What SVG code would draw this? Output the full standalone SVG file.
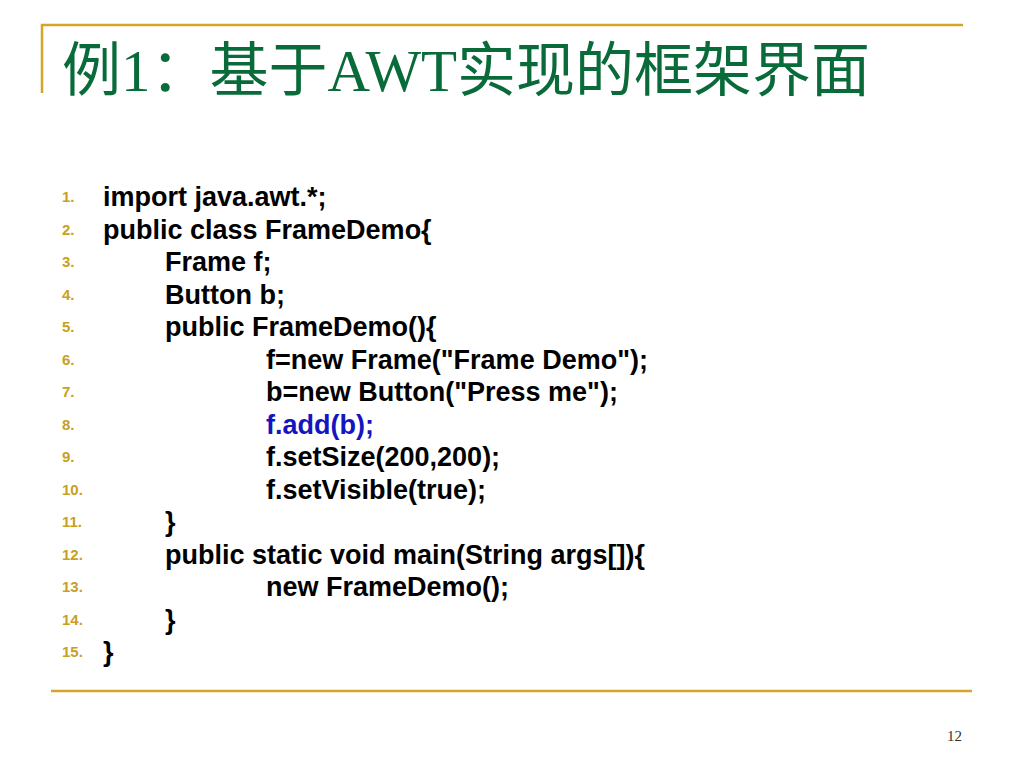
<svg xmlns="http://www.w3.org/2000/svg" width="1024" height="768" viewBox="0 0 1024 768">
<style>
.rule{stroke:#D4A52A;stroke-width:2.5;fill:none}
.title{font-family:"Liberation Serif","Noto Sans CJK SC",serif;font-size:59px;fill:#0A6B3A}
.num{font-family:"Liberation Sans",Arial,sans-serif;font-size:15px;font-weight:bold;fill:#C9A021}
.code{font-family:"Liberation Sans",Arial,sans-serif;font-size:27px;font-weight:bold;fill:#000}
.blue{fill:#1414C0}
.page{font-family:"Liberation Serif",serif;font-size:15px;fill:#333}
</style>
<rect width="1024" height="768" fill="#fff"/>
<g id="frame">
<path class="rule" d="M42 93 V25 H963"/>
<line class="rule" x1="51" y1="691" x2="972" y2="691"/>
</g>
<g id="title">
<text class="title" x="62" y="91">例1：基于AWT实现的框架界面</text>
</g>
<g id="line-numbers">
<text class="num" x="62" y="202">1.</text>
<text class="num" x="62" y="234.5">2.</text>
<text class="num" x="62" y="267">3.</text>
<text class="num" x="62" y="299.5">4.</text>
<text class="num" x="62" y="332">5.</text>
<text class="num" x="62" y="364.5">6.</text>
<text class="num" x="62" y="397">7.</text>
<text class="num" x="62" y="429.5">8.</text>
<text class="num" x="62" y="462">9.</text>
<text class="num" x="62" y="494.5">10.</text>
<text class="num" x="62" y="527">11.</text>
<text class="num" x="62" y="559.5">12.</text>
<text class="num" x="62" y="592">13.</text>
<text class="num" x="62" y="624.5">14.</text>
<text class="num" x="62" y="657">15.</text>
</g>
<g id="code">
<text class="code" x="103" y="206">import java.awt.*;</text>
<text class="code" x="103" y="238.5">public class FrameDemo{</text>
<text class="code" x="165" y="271">Frame f;</text>
<text class="code" x="165" y="303.5">Button b;</text>
<text class="code" x="165" y="336">public FrameDemo(){</text>
<text class="code" x="266" y="368.5">f=new Frame("Frame Demo");</text>
<text class="code" x="266" y="401">b=new Button("Press me");</text>
<text class="code blue" x="266" y="433.5">f.add(b);</text>
<text class="code" x="266" y="466">f.setSize(200,200);</text>
<text class="code" x="266" y="498.5">f.setVisible(true);</text>
<text class="code" x="165" y="531">}</text>
<text class="code" x="165" y="563.5">public static void main(String args[]){</text>
<text class="code" x="266" y="596">new FrameDemo();</text>
<text class="code" x="165" y="628.5">}</text>
<text class="code" x="103" y="661">}</text>
</g>
<g id="page-number">
<text class="page" x="962" y="741" text-anchor="end">12</text>
</g>
</svg>
